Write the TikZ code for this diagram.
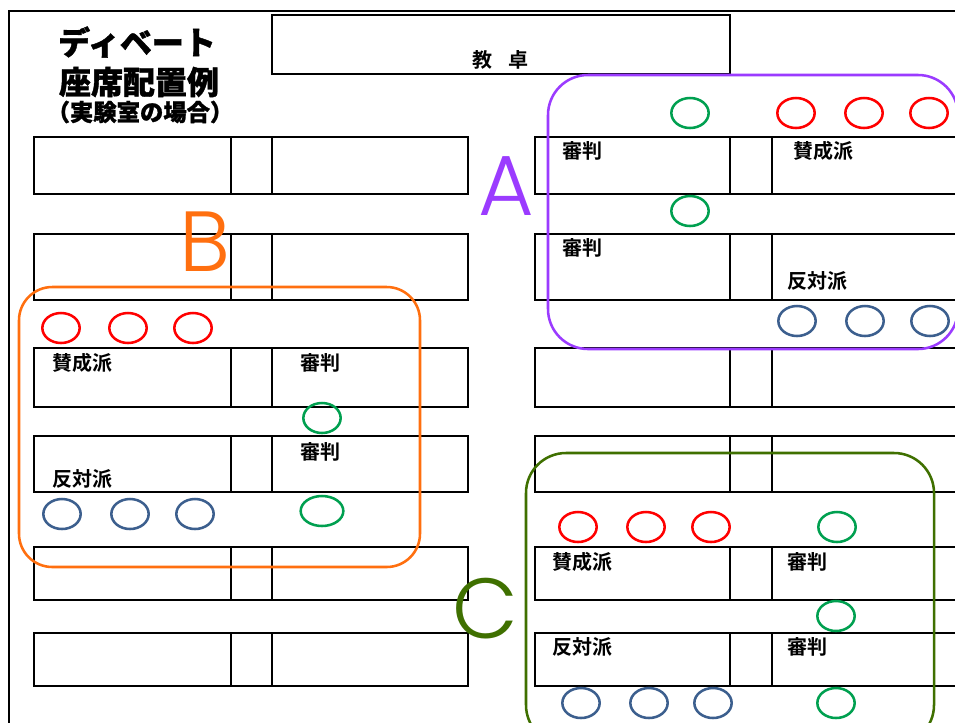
\documentclass[tikz,border=0pt]{standalone}
\usepackage{fontspec}
\usetikzlibrary{shapes.geometric}
\newfontfamily\jp{Noto Sans CJK JP Bold}
\newfontfamily\jpblack{Noto Sans CJK JP Black}[FakeBold=1.2]
\newfontfamily\lat{Poppins Light}
\definecolor{grpA}{HTML}{9B3BFF}
\definecolor{grpB}{HTML}{FF6F0F}
\definecolor{grpC}{HTML}{3F7000}
\definecolor{sred}{HTML}{FF0000}
\definecolor{sgreen}{HTML}{00A050}
\definecolor{sblue}{HTML}{3C5F8E}
\begin{document}
\begin{tikzpicture}[x=0.75pt,y=-0.75pt,
  desk/.style={draw=black,line width=0.8pt},
  lbl/.style={anchor=west,inner sep=0pt,font=\jp\fontsize{15}{15}\selectfont},
  seat/.style={ellipse,draw,line width=1.9pt,minimum width=28pt,minimum height=22.5pt,inner sep=0pt},
  pro/.style={seat,draw=sred},
  con/.style={seat,draw=sblue},
  judge/.style={seat,draw=sgreen},
  group/.style={line width=1.9pt},
  letter/.style={inner sep=0pt,font=\lat\fontsize{64}{64}\selectfont}]
\useasboundingbox (0,0) rectangle (955,722);
\clip (0,0) rectangle (955,722);
\fill[white] (0,0) rectangle (955,722);
% outer frame
\draw[line width=2pt] (9,740) -- (9,11) -- (975,11);
% title
\node[inner sep=0pt,font=\jpblack\fontsize{24}{24}\selectfont] (t1) at (137,42) {ディベート};
\node[inner sep=0pt,font=\jpblack\fontsize{24}{24}\selectfont] (t2) at (139,82) {座席配置例};
\node[inner sep=0pt,font=\jpblack\fontsize{17.5}{17.5}\selectfont] (t3) at (140,112) {（実験室の場合）};
% teacher desk
\draw[desk] (272,15) rectangle (730,74);
\node[inner sep=0pt,font=\jp\fontsize{15}{15}\selectfont] (teacher) at (500,60) {教\hspace{0.8em}卓};
% desks
\foreach \ya/\yb in {137/194,234/300,348/407,436/492,547/600,633/686}{
  \draw[desk] (34,\ya) rectangle (468,\yb);
  \draw[desk] (231,\ya) -- (231,\yb);
  \draw[desk] (272,\ya) -- (272,\yb);
  \draw[desk] (535,\ya) rectangle (975,\yb);
  \draw[desk] (730,\ya) -- (730,\yb);
  \draw[desk] (772,\ya) -- (772,\yb);
}
% group A
\draw[group,draw=grpA,rounded corners=30pt] (548,75) rectangle (958,349);
\node[letter,text=grpA] (A) at (506,186) {A};
\node[judge] (a1) at (690,113) {};
\node[pro] (a2) at (796,113) {};
\node[pro] (a3) at (864,113) {};
\node[pro] (a4) at (929,113) {};
\node[judge] (a5) at (690,211) {};
\node[con] (a6) at (797,321) {};
\node[con] (a7) at (865,321) {};
\node[con] (a8) at (930,321) {};
\node[lbl] (la1) at (562,151) {審判};
\node[lbl] (la2) at (793,151) {賛成派};
\node[lbl] (la3) at (562,248) {審判};
\node[lbl] (la4) at (787,281) {反対派};
% group B
\draw[group,draw=grpB,rounded corners=25pt] (19,287) rectangle (420,567);
\node[letter,text=grpB] (B) at (205,242) {B};
\node[pro] (b1) at (61,328) {};
\node[pro] (b2) at (128,328) {};
\node[pro] (b3) at (193,328) {};
\node[judge] (b4) at (322,418) {};
\node[con] (b5) at (62,514) {};
\node[con] (b6) at (130,514) {};
\node[con] (b7) at (195,514) {};
\node[judge,minimum width=32pt] (b8) at (322,511) {};
\node[lbl] (lb1) at (52,363) {賛成派};
\node[lbl] (lb2) at (300,363) {審判};
\node[lbl] (lb3) at (300,452) {審判};
\node[lbl] (lb4) at (52,479) {反対派};
% group C
\draw[group,draw=grpC,rounded corners=30pt] (526,453) rectangle (934,745);
\node[letter,text=grpC] (C) at (485,609) {C};
\node[pro] (c1) at (578,527) {};
\node[pro] (c2) at (646,527) {};
\node[pro] (c3) at (711,527) {};
\node[judge] (c4) at (837,527) {};
\node[judge] (c5) at (836,616) {};
\node[con] (c6) at (581,703) {};
\node[con] (c7) at (649,703) {};
\node[con] (c8) at (713,703) {};
\node[judge] (c9) at (836,703) {};
\node[lbl] (lc1) at (552,562) {賛成派};
\node[lbl] (lc2) at (787,562) {審判};
\node[lbl] (lc3) at (552,647) {反対派};
\node[lbl] (lc4) at (787,647) {審判};
\end{tikzpicture}
\end{document}
